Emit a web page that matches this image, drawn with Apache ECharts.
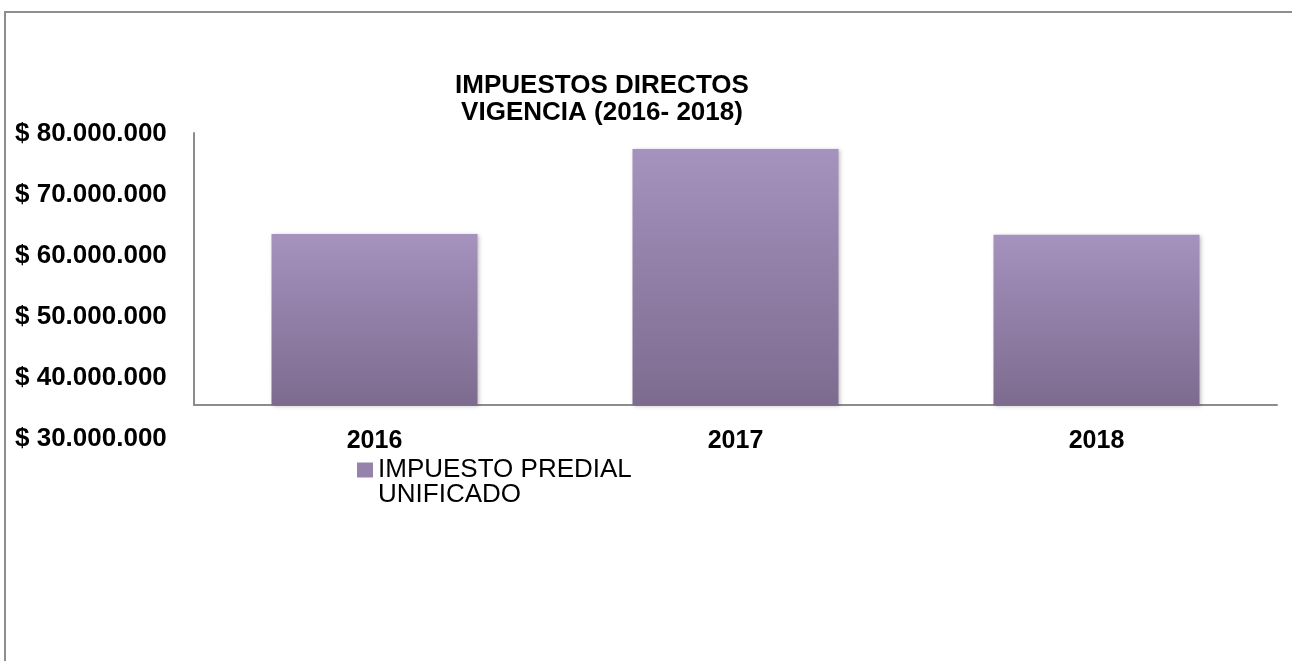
<!DOCTYPE html>
<html>
<head>
<meta charset="utf-8">
<script src="https://cdn.jsdelivr.net/npm/echarts@6/dist/echarts.min.js"></script>
<style>
  html, body { margin: 0; padding: 0; background: #fff; }
  #frame { position: absolute; left: 4px; top: 11px; width: 1290px; height: 652px;
           border-top: 2px solid #8e8e8e; border-left: 2px solid #8e8e8e; box-sizing: border-box; }
  #chart { position: absolute; left: 0; top: 0; width: 1292px; height: 661px; }
</style>
</head>
<body>
<div id="frame"></div>
<div id="chart"></div>
<script>
// ---- data ----
var categories = ['2016', '2017', '2018'];
var seriesName = 'IMPUESTO PREDIAL UNIFICADO';
var legendLines = ['IMPUESTO PREDIAL', 'UNIFICADO'];
var values = [63300000, 77350000, 63150000];
var yTickValues = [30000000, 40000000, 50000000, 60000000, 70000000, 80000000];
var yTickLabels = ['$ 30.000.000', '$ 40.000.000', '$ 50.000.000', '$ 60.000.000', '$ 70.000.000', '$ 80.000.000'];
var titleLines = ['IMPUESTOS DIRECTOS', 'VIGENCIA (2016- 2018)'];

var FONT = '"Liberation Sans", Arial, sans-serif';
var chart = echarts.init(document.getElementById('chart'), null, { renderer: 'canvas' });

var option = {
  backgroundColor: 'transparent',
  animation: false,
  title: {
    text: titleLines.join('\n'),
    left: 597,
    top: 67,
    textAlign: 'center',
    textStyle: { fontFamily: FONT, fontSize: 26, fontWeight: 'bold', color: '#000', lineHeight: 27 }
  },
  legend: {
    data: [seriesName],
    left: 352,
    top: 427,
    orient: 'vertical',
    itemWidth: 16,
    itemHeight: 15,
    icon: 'rect',
    itemStyle: { color: '#9583ab' },
    formatter: function (name) { return '\n' + legendLines.join('\n'); },
    textStyle: { fontFamily: FONT, fontSize: 26, color: '#000', lineHeight: 25 }
  },
  grid: [
    { left: 194, top: 133, width: 1083, height: 272, containLabel: false },
    { left: 15, top: 134, width: 10, height: 305, containLabel: false }
  ],
  xAxis: [
    {
      type: 'category', gridIndex: 0, data: categories,
      axisLine: { show: true, lineStyle: { color: '#8c8c8c', width: 2 } },
      axisTick: { show: false },
      axisLabel: { margin: 24, fontFamily: FONT, fontSize: 25, fontWeight: 'bold', color: '#000' }
    },
    { type: 'category', gridIndex: 1, data: [''], show: false }
  ],
  yAxis: [
    {
      type: 'value', gridIndex: 0, min: 35000000, max: 80000000,
      axisLine: { show: true, lineStyle: { color: '#8c8c8c', width: 2 } },
      axisTick: { show: false }, axisLabel: { show: false }, splitLine: { show: false }
    },
    {
      type: 'value', gridIndex: 1, min: 30000000, max: 80000000, interval: 10000000,
      axisLine: { show: false }, axisTick: { show: false }, splitLine: { show: false },
      axisLabel: {
        show: true, margin: 0, align: 'left',
        fontFamily: FONT, fontSize: 26, fontWeight: 'bold', color: '#000',
        formatter: function (v) {
          var i = yTickValues.indexOf(v);
          return i >= 0 ? yTickLabels[i] : '';
        }
      }
    }
  ],
  series: [
    {
      name: seriesName,
      type: 'bar',
      xAxisIndex: 0, yAxisIndex: 0,
      data: values,
      barWidth: 206,
      itemStyle: {
        color: new echarts.graphic.LinearGradient(0, 0, 0, 1, [
          { offset: 0, color: '#a592be' },
          { offset: 1, color: '#7d6b8f' }
        ]),
        shadowColor: 'rgba(0,0,0,0.25)',
        shadowBlur: 4,
        shadowOffsetX: 1,
        shadowOffsetY: 1
      }
    }
  ]
};
chart.setOption(option);
</script>
</body>
</html>
